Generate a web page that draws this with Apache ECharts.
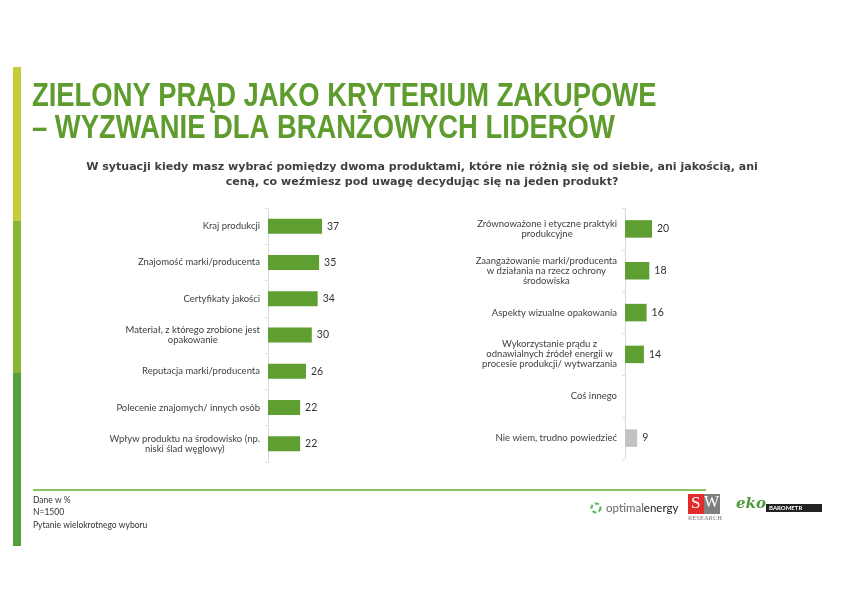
<!DOCTYPE html>
<html>
<head>
<meta charset="utf-8">
<script src="https://cdn.jsdelivr.net/npm/echarts@6/dist/echarts.min.js"></script>
<style>
html,body{margin:0;padding:0;background:#fff;}
#c{width:841px;height:595px;}
</style>
</head>
<body>
<div id="c"></div>
<script>
const titleText = 'ZIELONY PRĄD JAKO KRYTERIUM ZAKUPOWE\n– WYZWANIE DLA BRANŻOWYCH LIDERÓW';
const subtitleText = 'W sytuacji kiedy masz wybrać pomiędzy dwoma produktami, które nie różnią się od siebie, ani jakością, ani\nceną, co weźmiesz pod uwagę decydując się na jeden produkt?';
const leftCategories = [
  'Kraj produkcji',
  'Znajomość marki/producenta',
  'Certyfikaty jakości',
  'Materiał, z którego zrobione jest\nopakowanie',
  'Reputacja marki/producenta',
  'Polecenie znajomych/ innych osób',
  'Wpływ produktu na środowisko (np.\nniski ślad węglowy)'
];
const leftValues = [37, 35, 34, 30, 26, 22, 22];
const rightCategories = [
  'Zrównoważone i etyczne praktyki\nprodukcyjne',
  'Zaangażowanie marki/producenta\nw działania na rzecz ochrony\nśrodowiska',
  'Aspekty wizualne opakowania',
  'Wykorzystanie prądu z\nodnawialnych źródeł energii w\nprocesie produkcji/ wytwarzania',
  'Coś innego',
  'Nie wiem, trudno powiedzieć'
];
const rightValues = [20, 18, 16, 14, '-', 9];
const neutralCategory = 'Nie wiem, trudno powiedzieć';
const footerLines = ['Dane w %', 'N=1500', 'Pytanie wielokrotnego wyboru'];

const GREEN = '#5f9e30';
const GREY = '#c2c2c2';
const FONT = 'Lato, "Liberation Sans", sans-serif';

const chart = echarts.init(document.getElementById('c'));

function catAxis(gridIndex, cats) {
  return {
    type: 'category', gridIndex: gridIndex, data: cats, inverse: true,
    axisLine: {show: true, lineStyle: {color: '#d9d9d9', width: 1}},
    axisTick: {show: true, length: 3, lineStyle: {color: '#e0e0e0'}},
    axisLabel: {
      margin: 8,
      formatter: function (v) { return v.split('\n').map(function (s) { return '{c|' + s + '}'; }).join('\n'); },
      rich: {c: {align: 'center', fontSize: 9.5, lineHeight: 10, color: '#404040', fontFamily: FONT}}
    },
    splitLine: {show: false}
  };
}
function valAxis(gridIndex) {
  return {type: 'value', gridIndex: gridIndex, min: 0, max: 50, show: false};
}
function barSeries(idx, cats, vals, bw) {
  return {
    type: 'bar', xAxisIndex: idx, yAxisIndex: idx, data: vals, barWidth: bw,
    itemStyle: {color: function (p) { return cats[p.dataIndex] === neutralCategory ? GREY : GREEN; }},
    label: {show: true, position: 'right', distance: 5, fontSize: 10.5, color: '#333', fontFamily: FONT},
    silent: true
  };
}

const option = {
  animation: false,
  backgroundColor: '#fff',
  grid: [
    {left: 268, top: 208, width: 73, height: 254},
    {left: 625, top: 208, width: 67.5, height: 251}
  ],
  xAxis: [valAxis(0), valAxis(1)],
  yAxis: [catAxis(0, leftCategories), catAxis(1, rightCategories)],
  series: [barSeries(0, leftCategories, leftValues, 15), barSeries(1, rightCategories, rightValues, 17.5)],
  graphic: [
    {type: 'text', x: 32, y: 81, scaleX: 0.83,
     style: {text: titleText, fontFamily: '"Liberation Sans", Arial, sans-serif', fontWeight: 'bold', fontSize: 33, lineHeight: 32, fill: '#5e9c2e'}},
    {type: 'text', x: 422, y: 160,
     style: {text: subtitleText, align: 'center', fontFamily: '"DejaVu Sans", sans-serif', fontWeight: 'bold', fontSize: 11.05, lineHeight: 15, fill: '#3f3f3f'}},
    {type: 'rect', shape: {x: 13, y: 67, width: 8, height: 154}, style: {fill: '#c5cc3a'}},
    {type: 'rect', shape: {x: 13, y: 221, width: 8, height: 152}, style: {fill: '#8ab534'}},
    {type: 'rect', shape: {x: 13, y: 373, width: 8, height: 173}, style: {fill: '#55a03a'}},
    {type: 'line', shape: {x1: 33, y1: 490, x2: 706, y2: 490}, style: {stroke: '#8cc063', lineWidth: 2}},
    {type: 'text', left: 33, top: 494, style: {text: footerLines.join('\n'), fontSize: 8.5, lineHeight: 12.5, fill: '#333', fontFamily: FONT}},
    // optimalenergy logo
    {type: 'circle', shape: {cx: 596, cy: 508, r: 4.5}, style: {fill: 'none', stroke: '#5cb85c', lineWidth: 2.2, lineDash: [4, 2.5]}},
    {type: 'text', left: 606, top: 502, style: {text: '{a|optimal}{b|energy}', rich: {a: {fontSize: 11.5, fill: '#666', fontFamily: FONT}, b: {fontSize: 11.5, fill: '#222', fontFamily: FONT}}}},
    // SW Research logo
    {type: 'rect', shape: {x: 688, y: 494, width: 16, height: 20}, style: {fill: '#e32b2b'}},
    {type: 'rect', shape: {x: 704, y: 494, width: 16, height: 20}, style: {fill: '#808080'}},
    {type: 'text', left: 691, top: 495, style: {text: 'S', fontSize: 17, fill: '#fff', fontFamily: '"Liberation Serif", serif'}},
    {type: 'text', left: 704, top: 495, style: {text: 'W', fontSize: 16, fill: '#fff', fontFamily: '"Liberation Serif", serif'}},
    {type: 'text', left: 688, top: 515, style: {text: 'RESEARCH', fontSize: 6.5, fill: '#777', fontFamily: '"Liberation Serif", serif'}},
    // eko barometr logo
    {type: 'text', left: 736, top: 497, style: {text: 'eko', fontSize: 15, fontStyle: 'italic', fontWeight: 'bold', fill: '#4e9a3c', fontFamily: '"DejaVu Serif", serif'}},
    {type: 'rect', shape: {x: 766, y: 504, width: 56, height: 8}, style: {fill: '#222'}},
    {type: 'text', left: 769, top: 505, style: {text: 'BAROMETR', fontSize: 6, fontWeight: 'bold', fill: '#fff', fontFamily: FONT}}
  ]
};
chart.setOption(option);
</script>
</body>
</html>
